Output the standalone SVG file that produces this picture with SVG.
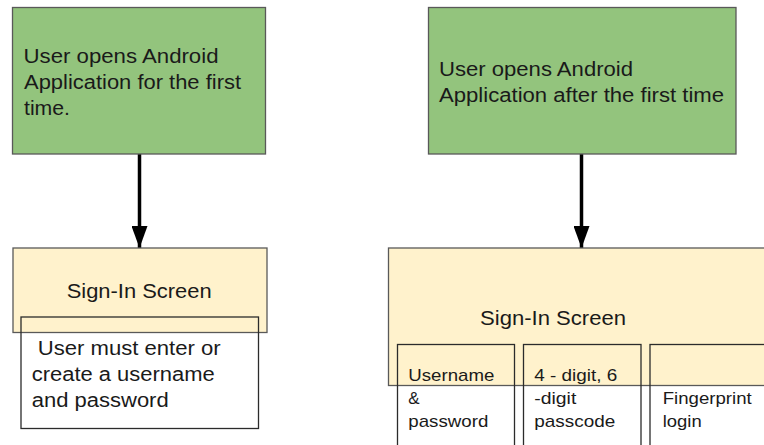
<svg xmlns="http://www.w3.org/2000/svg" width="764" height="445" viewBox="0 0 764 445">
<defs>
<style>
.green{fill:#93c47d;stroke:#595959;stroke-width:1.3}
.yellow{fill:#fff2cc;stroke:#595959;stroke-width:1.3}
.open{fill:none;stroke:#2b2b2b;stroke-width:1.3}
.t{font-family:"Liberation Sans",Arial,sans-serif;fill:#1a1a1a}
.l{font-size:20px}
.s{font-size:17px}
.conn{stroke:#000;stroke-width:3.5;fill:none}
</style>
<marker id="arrow" markerUnits="userSpaceOnUse" markerWidth="22" markerHeight="16" refX="22" refY="8" orient="auto" viewBox="0 0 22 16">
<polygon points="0,0 22,8 0,16" fill="#000"/>
</marker>
</defs>
<rect width="764" height="445" fill="#fff"/>
<g id="connectors">
<line class="conn" x1="139.5" y1="154" x2="139.5" y2="248" marker-end="url(#arrow)"/>
<line class="conn" x1="581.5" y1="154" x2="581.5" y2="248" marker-end="url(#arrow)"/>
</g>
<g id="start-first">
<rect class="green" x="12.5" y="7.5" width="253" height="146.5"/>
<text class="t l" x="23.5" y="63" textLength="195" lengthAdjust="spacingAndGlyphs">User opens Android</text>
<text class="t l" x="24" y="89" textLength="217" lengthAdjust="spacingAndGlyphs">Application for the first</text>
<text class="t l" x="24" y="115" textLength="46" lengthAdjust="spacingAndGlyphs">time.</text>
</g>
<g id="start-after">
<rect class="green" x="428.5" y="7.5" width="307.5" height="146.5"/>
<text class="t l" x="439" y="76" textLength="194" lengthAdjust="spacingAndGlyphs">User opens Android</text>
<text class="t l" x="439" y="102" textLength="285" lengthAdjust="spacingAndGlyphs">Application after the first time</text>
</g>
<g id="signin-first">
<rect class="yellow" x="13" y="248" width="254" height="84.5"/>
<text class="t l" x="66.7" y="298" textLength="145" lengthAdjust="spacingAndGlyphs">Sign-In Screen</text>
</g>
<g id="signin-first-note">
<rect class="open" x="21" y="317" width="237.5" height="111.5"/>
<text class="t l" x="37.7" y="354.5" textLength="183" lengthAdjust="spacingAndGlyphs">User must enter or</text>
<text class="t l" x="31.7" y="380.5" textLength="183" lengthAdjust="spacingAndGlyphs">create a username</text>
<text class="t l" x="31.7" y="406.5" textLength="137" lengthAdjust="spacingAndGlyphs">and password</text>
</g>
<g id="signin-after">
<rect class="yellow" x="388.5" y="248" width="380" height="137.5"/>
<text class="t l" x="480" y="325" textLength="146" lengthAdjust="spacingAndGlyphs">Sign-In Screen</text>
</g>
<g id="opt-username">
<rect class="open" x="397.5" y="344.5" width="117" height="110"/>
<text class="t s" x="408.3" y="380.5" textLength="86" lengthAdjust="spacingAndGlyphs">Username</text>
<text class="t s" x="408.3" y="403.5">&amp;</text>
<text class="t s" x="408.3" y="426.5" textLength="80" lengthAdjust="spacingAndGlyphs">password</text>
</g>
<g id="opt-passcode">
<rect class="open" x="523.5" y="344.5" width="117.5" height="110"/>
<text class="t s" x="534.3" y="380.5" textLength="83" lengthAdjust="spacingAndGlyphs">4 - digit, 6</text>
<text class="t s" x="534.3" y="403.5" textLength="42" lengthAdjust="spacingAndGlyphs">-digit</text>
<text class="t s" x="534.3" y="426.5" textLength="81" lengthAdjust="spacingAndGlyphs">passcode</text>
</g>
<g id="opt-fingerprint">
<rect class="open" x="650" y="344.5" width="130" height="110"/>
<text class="t s" x="662.7" y="403.5" textLength="89" lengthAdjust="spacingAndGlyphs">Fingerprint</text>
<text class="t s" x="662.7" y="426.5" textLength="39" lengthAdjust="spacingAndGlyphs">login</text>
</g>
</svg>
